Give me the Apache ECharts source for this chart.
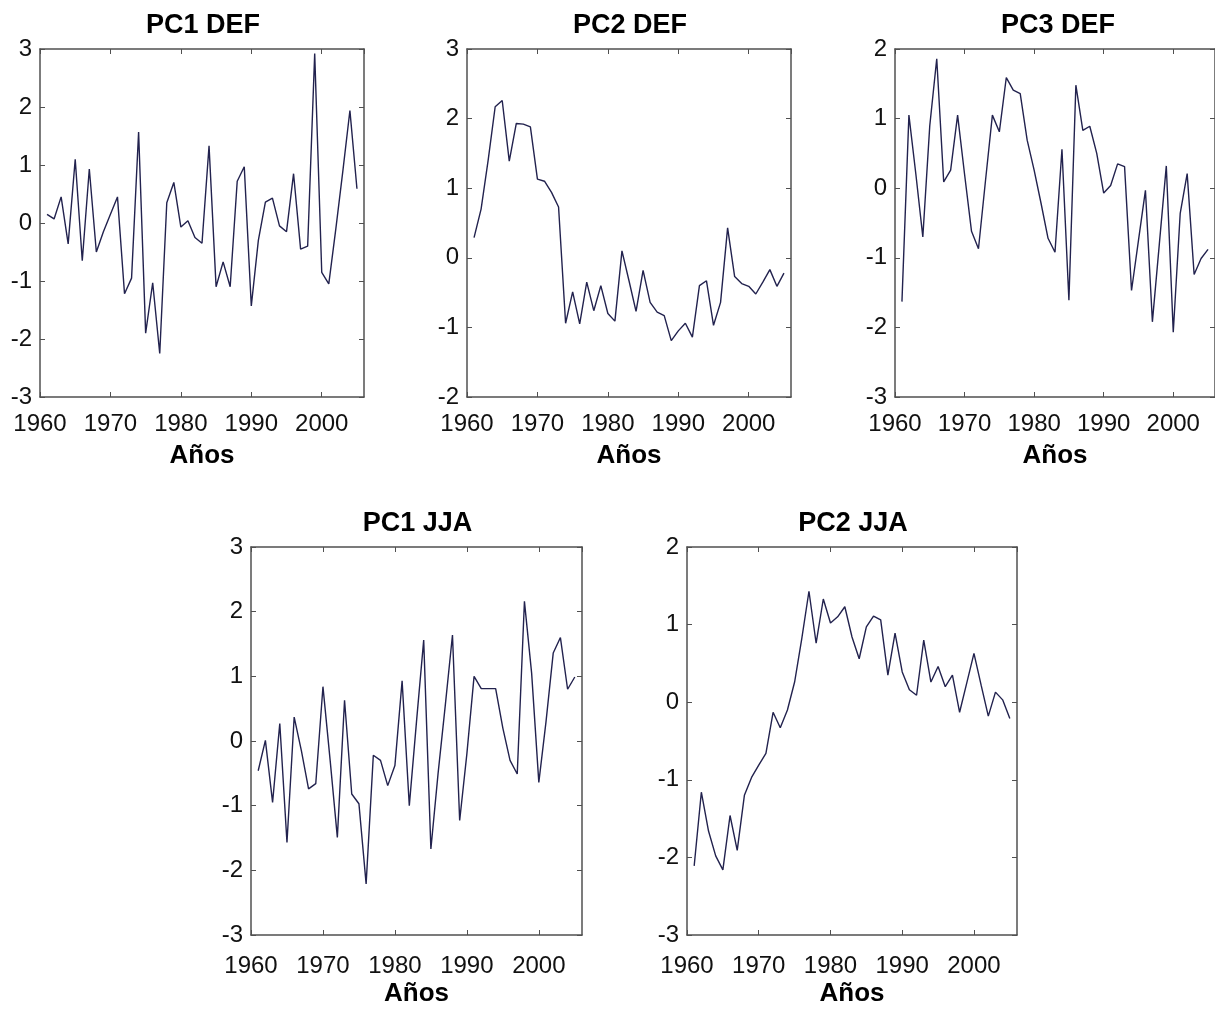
<!DOCTYPE html>
<html>
<head>
<meta charset="utf-8">
<script src="https://cdn.jsdelivr.net/npm/echarts@6/dist/echarts.min.js"></script>
<style>
  html, body { margin: 0; padding: 0; background: #fff; }
  #chart { width: 1215px; height: 1017px; }
</style>
</head>
<body>
<div id="chart"></div>
<script>
// años 1961-2005
var years = [1961, 1962, 1963, 1964, 1965, 1966, 1967, 1968, 1969, 1970,
             1971, 1972, 1973, 1974, 1975, 1976, 1977, 1978, 1979, 1980,
             1981, 1982, 1983, 1984, 1985, 1986, 1987, 1988, 1989, 1990,
             1991, 1992, 1993, 1994, 1995, 1996, 1997, 1998, 1999, 2000,
             2001, 2002, 2003, 2004, 2005];

var pc1Def = [0.15, 0.07, 0.45, -0.36, 1.1, -0.65, 0.93, -0.5, -0.15, 0.15,
              0.45, -1.22, -0.95, 1.57, -1.9, -1.03, -2.25, 0.35, 0.7, -0.07,
              0.04, -0.25, -0.35, 1.33, -1.1, -0.67, -1.1, 0.72, 0.97, -1.43,
              -0.3, 0.36, 0.43, -0.05, -0.15, 0.85, -0.45, -0.4, 2.92, -0.85,
              -1.05, -0.1, 0.9, 1.94, 0.59];

var pc2Def = [0.29, 0.7, 1.4, 2.17, 2.26, 1.39, 1.93, 1.92, 1.88, 1.13,
              1.1, 0.94, 0.73, -0.94, -0.49, -0.95, -0.35, -0.76, -0.4, -0.8,
              -0.91, 0.1, -0.33, -0.77, -0.18, -0.64, -0.78, -0.83, -1.19, -1.05,
              -0.94, -1.14, -0.4, -0.33, -0.97, -0.64, 0.43, -0.27, -0.37, -0.41,
              -0.52, -0.35, -0.17, -0.41, -0.22];

var pc3Def = [-1.63, 1.05, 0.2, -0.7, 0.9, 1.86, 0.09, 0.26, 1.05, 0.2,
              -0.62, -0.87, 0.1, 1.05, 0.81, 1.59, 1.41, 1.36, 0.69, 0.26,
              -0.22, -0.72, -0.92, 0.56, -1.61, 1.48, 0.83, 0.89, 0.5, -0.07,
              0.04, 0.35, 0.31, -1.47, -0.75, -0.03, -1.92, -0.8, 0.32, -2.07,
              -0.36, 0.21, -1.24, -1.01, -0.88];

var pc1Jja = [-0.46, 0.01, -0.95, 0.27, -1.57, 0.37, -0.15, -0.74, -0.66, 0.84,
              -0.3, -1.49, 0.63, -0.82, -0.97, -2.21, -0.22, -0.3, -0.69, -0.38,
              0.93, -1.0, 0.3, 1.56, -1.67, -0.5, 0.55, 1.64, -1.23, -0.2,
              1.0, 0.81, 0.81, 0.81, 0.2, -0.3, -0.51, 2.16, 1.05, -0.64,
              0.3, 1.36, 1.6, 0.8, 0.99];

var pc2Jja = [-2.11, -1.16, -1.66, -1.98, -2.16, -1.46, -1.91, -1.2, -0.97, -0.81,
              -0.66, -0.13, -0.33, -0.1, 0.26, 0.82, 1.43, 0.76, 1.33, 1.02,
              1.1, 1.23, 0.84, 0.56, 0.97, 1.11, 1.06, 0.35, 0.89, 0.39,
              0.16, 0.09, 0.8, 0.26, 0.46, 0.2, 0.35, -0.13, 0.25, 0.63,
              0.22, -0.18, 0.13, 0.03, -0.21];

var titles = ['PC1 DEF', 'PC2 DEF', 'PC3 DEF', 'PC1 JJA', 'PC2 JJA'];
var yMins = [-3, -2, -3, -3, -3];
var yMaxs = [3, 3, 2, 3, 2];
var series = [pc1Def, pc2Def, pc3Def, pc1Jja, pc2Jja];

// where each panel goes on the page
var boxes = [
  { left: 40, top: 49, width: 324, height: 348, labelGap: 15 },
  { left: 467, top: 49, width: 324, height: 348, labelGap: 15 },
  { left: 895, top: 49, width: 324, height: 348, labelGap: 15 },
  { left: 251, top: 547, width: 331, height: 388, labelGap: 19 },
  { left: 687, top: 547, width: 330, height: 388, labelGap: 19 }
];

var axisColor = '#505050';
var lineColor = '#22224e';
var font = 'Liberation Sans, Arial, sans-serif';

var option = {
  animation: false,
  backgroundColor: '#fff',
  title: [],
  grid: [],
  xAxis: [],
  yAxis: [],
  series: []
};

boxes.forEach(function (b, i) {
  option.title.push({
    text: titles[i],
    left: b.left + b.width / 2 - 4,
    top: b.top - 42,
    textAlign: 'center',
    textStyle: { fontFamily: font, fontWeight: 'bold', fontSize: 27, color: '#000' }
  });
  option.grid.push({ left: b.left, top: b.top, width: b.width, height: b.height });

  var line = { show: true, onZero: false, lineStyle: { color: axisColor, width: 1.5 } };
  var tick = { show: true, inside: true, length: 5, lineStyle: { color: axisColor, width: 1 } };

  option.xAxis.push({
    type: 'value', gridIndex: i, position: 'bottom',
    min: 1960, max: 2006, interval: 10,
    axisLine: line, axisTick: tick, splitLine: { show: false },
    axisLabel: {
      margin: b.labelGap, fontFamily: font, fontSize: 24, color: '#111',
      showMaxLabel: false,
      formatter: function (v) { return v % 10 === 0 ? String(v) : ''; }
    },
    name: 'Años', nameLocation: 'middle', nameGap: 46,
    nameTextStyle: { fontFamily: font, fontWeight: 'bold', fontSize: 26, color: '#000' }
  });
  option.xAxis.push({
    type: 'value', gridIndex: i, position: 'top',
    min: 1960, max: 2006, interval: 10,
    axisLine: line, axisTick: tick, splitLine: { show: false },
    axisLabel: { show: false }
  });
  option.yAxis.push({
    type: 'value', gridIndex: i, position: 'left',
    min: yMins[i], max: yMaxs[i], interval: 1,
    axisLine: line, axisTick: tick, splitLine: { show: false },
    axisLabel: { margin: 8, fontFamily: font, fontSize: 24, color: '#111' }
  });
  option.yAxis.push({
    type: 'value', gridIndex: i, position: 'right',
    min: yMins[i], max: yMaxs[i], interval: 1,
    axisLine: line, axisTick: tick, splitLine: { show: false },
    axisLabel: { show: false }
  });

  option.series.push({
    type: 'line',
    xAxisIndex: i * 2,
    yAxisIndex: i * 2,
    showSymbol: false,
    lineStyle: { color: lineColor, width: 1.4 },
    data: years.map(function (y, k) { return [y, series[i][k]]; })
  });
});

var myChart = echarts.init(document.getElementById('chart'));
myChart.setOption(option);
</script>
</body>
</html>
